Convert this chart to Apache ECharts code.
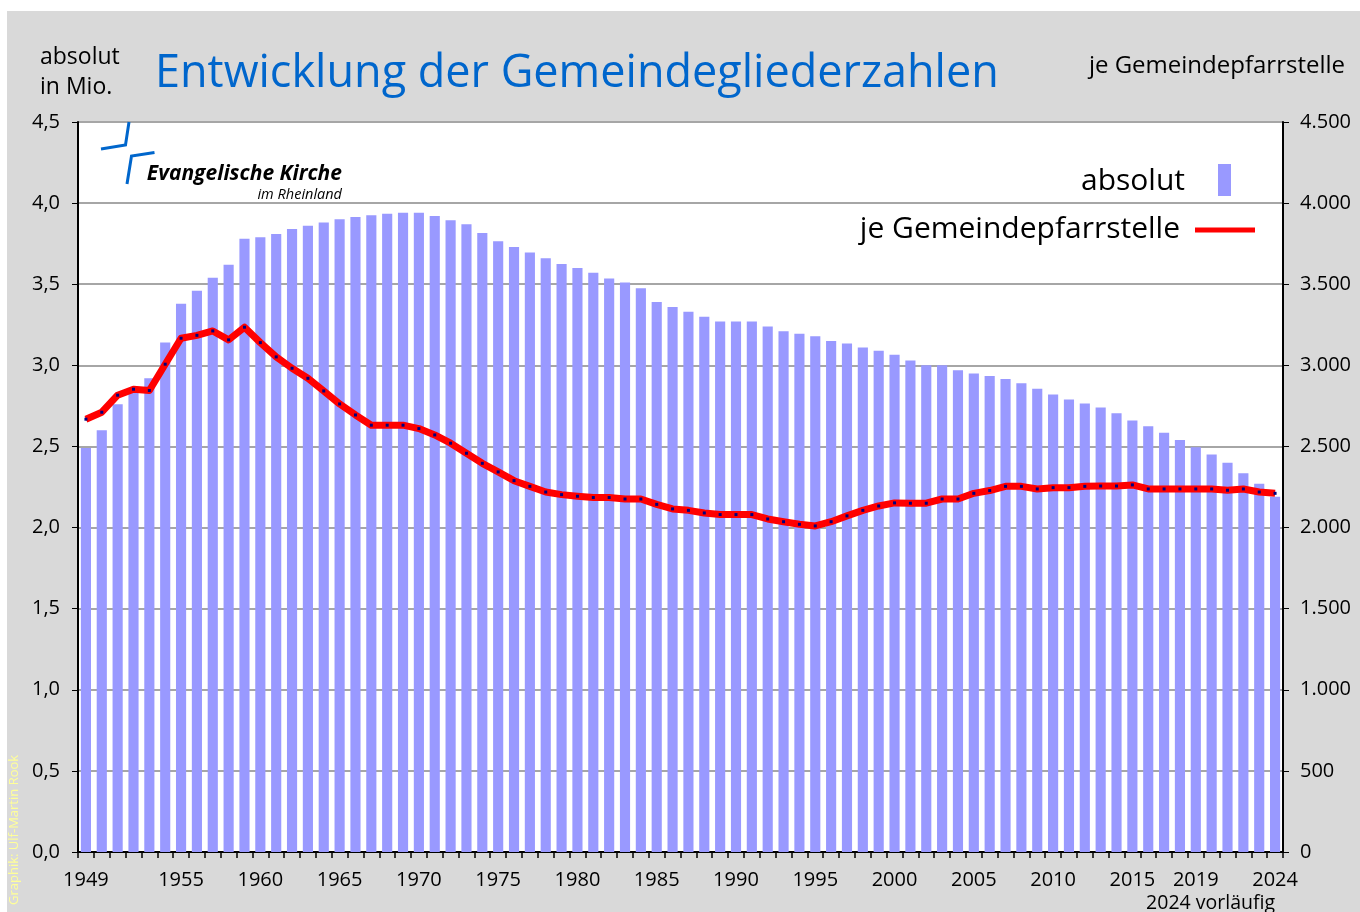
<!DOCTYPE html>
<html>
<head>
<meta charset="utf-8">
<script src="https://cdn.jsdelivr.net/npm/echarts@6/dist/echarts.min.js"></script>
<style>
  html, body { margin: 0; padding: 0; background: #fff; }
  #chart { width: 1360px; height: 912px; }
</style>
</head>
<body>
<div id="chart"></div>
<script>
// Jahre 1949 - 2024
var years = [];
for (var y = 1949; y <= 2024; y++) years.push(String(y));

// Gemeindeglieder absolut, in Mio.
var absolutMio = [
  2.49, 2.60, 2.76, 2.83, 2.92, 3.14, 3.38, 3.46, 3.54, 3.62,        // 1949-1958
  3.78, 3.79, 3.81, 3.84, 3.86, 3.88, 3.90, 3.915, 3.925, 3.935,     // 1959-1968
  3.94, 3.94, 3.92, 3.895, 3.87, 3.815, 3.765, 3.73, 3.695, 3.66,    // 1969-1978
  3.625, 3.60, 3.57, 3.535, 3.51, 3.475, 3.39, 3.36, 3.33, 3.30,     // 1979-1988
  3.27, 3.27, 3.27, 3.24, 3.21, 3.195, 3.18, 3.15, 3.135, 3.11,      // 1989-1998
  3.09, 3.065, 3.03, 3.00, 3.00, 2.97, 2.95, 2.935, 2.915, 2.89,     // 1999-2008
  2.855, 2.82, 2.79, 2.765, 2.74, 2.705, 2.66, 2.625, 2.585, 2.54,   // 2009-2018
  2.495, 2.45, 2.40, 2.335, 2.27, 2.19                               // 2019-2024
];

// Gemeindeglieder je Gemeindepfarrstelle
var jePfarrstelle = [
  2668, 2711, 2816, 2853, 2845, 3007, 3167, 3185, 3212, 3157,   // 1949-1958
  3235, 3140, 3052, 2982, 2920, 2842, 2762, 2694, 2631, 2631,   // 1959-1968
  2631, 2610, 2571, 2520, 2458, 2396, 2343, 2289, 2254, 2219,   // 1969-1978
  2203, 2193, 2185, 2185, 2176, 2176, 2143, 2115, 2106, 2090,   // 1979-1988
  2080, 2080, 2080, 2053, 2036, 2020, 2010, 2036, 2072, 2106,   // 1989-1998
  2133, 2152, 2150, 2150, 2176, 2176, 2211, 2228, 2254, 2254,   // 1999-2008
  2238, 2246, 2246, 2254, 2256, 2256, 2263, 2238, 2238, 2238,   // 2009-2018
  2238, 2238, 2230, 2238, 2219, 2211                            // 2019-2024
];

// beschriftete Jahre auf der x-Achse
var labelYears = ['1949', '1955', '1960', '1965', '1970', '1975', '1980', '1985', '1990',
  '1995', '2000', '2005', '2010', '2015', '2019', '2024'];

var FONT = '"Open Sans", "Noto Sans", sans-serif';
var BLUE = '#0066cc';

var myChart = echarts.init(document.getElementById('chart'));
var option = {
  backgroundColor: '#ffffff',
  animation: false,
  textStyle: { fontFamily: FONT },
  grid: {
    left: 78, right: 77, top: 122, bottom: 60,
    show: true, backgroundColor: '#ffffff', borderWidth: 0
  },
  xAxis: {
    type: 'category',
    data: years,
    axisLine: { lineStyle: { color: '#000', width: 2 } },
    axisTick: { show: true, interval: 0, length: 6, lineStyle: { color: '#000', width: 1.5 } },
    axisLabel: {
      interval: function (idx, val) { return labelYears.indexOf(val) >= 0; },
      color: '#000', fontSize: 20, margin: 18, fontFamily: FONT
    }
  },
  yAxis: [
    {
      type: 'value', min: 0, max: 4.5, interval: 0.5,
      axisLine: { show: true, lineStyle: { color: '#000', width: 2 } },
      axisTick: { show: true, length: 6, lineStyle: { color: '#000' } },
      splitLine: { lineStyle: { color: '#a6a6a6', width: 2 } },
      axisLabel: {
        color: '#000', fontSize: 20, margin: 18, fontFamily: FONT,
        formatter: function (v) { return v.toFixed(1).replace('.', ','); }
      }
    },
    {
      type: 'value', min: 0, max: 4500, interval: 500,
      axisLine: { show: true, lineStyle: { color: '#000', width: 2 } },
      axisTick: { show: true, length: 6, lineStyle: { color: '#000' } },
      splitLine: { show: false },
      axisLabel: {
        color: '#000', fontSize: 20, margin: 17, fontFamily: FONT,
        formatter: function (v) { return String(v).replace(/\B(?=(\d{3})+(?!\d))/g, '.'); }
      }
    }
  ],
  series: [
    {
      name: 'absolut',
      type: 'bar',
      yAxisIndex: 0,
      barWidth: '64%',
      itemStyle: { color: '#9999ff' },
      data: absolutMio
    },
    {
      name: 'je Gemeindepfarrstelle',
      type: 'line',
      yAxisIndex: 1,
      z: 5,
      symbol: 'rect',
      symbolSize: 3,
      showSymbol: true,
      itemStyle: { color: '#000080' },
      lineStyle: { color: '#ff0000', width: 7, join: 'round' },
      data: jePfarrstelle
    }
  ],
  graphic: [
    // grauer Hintergrund
    { type: 'rect', z: -10, shape: { x: 7, y: 11, width: 1353, height: 901 }, style: { fill: '#d9d9d9' } },
    // Ueberschriften
    { type: 'text', x: 155, y: 74, style: { text: 'Entwicklung der Gemeindegliederzahlen', fill: BLUE,
        font: '45px ' + FONT, textVerticalAlign: 'middle' } },
    { type: 'text', x: 40, y: 57, style: { text: 'absolut', fill: '#000', font: '23px ' + FONT, textVerticalAlign: 'middle' } },
    { type: 'text', x: 40, y: 87, style: { text: 'in Mio.', fill: '#000', font: '23px ' + FONT, textVerticalAlign: 'middle' } },
    { type: 'text', x: 1345, y: 66, style: { text: 'je Gemeindepfarrstelle', fill: '#000', font: '24px ' + FONT,
        textAlign: 'right', textVerticalAlign: 'middle' } },
    // Logo
    { type: 'polyline', z: 10, shape: { points: [[129, 122], [125.5, 145], [101, 149]] },
      style: { stroke: BLUE, lineWidth: 3, fill: null } },
    { type: 'polyline', z: 10, shape: { points: [[154.5, 152.5], [131.5, 156], [127, 184]] },
      style: { stroke: BLUE, lineWidth: 3, fill: null } },
    { type: 'text', z: 10, x: 342, y: 174, style: { text: 'Evangelische Kirche', fill: '#000',
        font: 'italic bold 21px ' + FONT, textAlign: 'right', textVerticalAlign: 'middle' } },
    { type: 'text', z: 10, x: 342, y: 195, style: { text: 'im Rheinland', fill: '#000',
        font: 'italic 14.5px ' + FONT, textAlign: 'right', textVerticalAlign: 'middle' } },
    // Legende
    { type: 'text', z: 10, x: 1185, y: 181, style: { text: 'absolut', fill: '#000', font: '30px ' + FONT,
        textAlign: 'right', textVerticalAlign: 'middle' } },
    { type: 'rect', z: 10, shape: { x: 1218, y: 164, width: 13, height: 32 }, style: { fill: '#9999ff' } },
    { type: 'text', z: 10, x: 1180, y: 229, style: { text: 'je Gemeindepfarrstelle', fill: '#000', font: '30px ' + FONT,
        textAlign: 'right', textVerticalAlign: 'middle' } },
    { type: 'line', z: 10, shape: { x1: 1195, y1: 230, x2: 1255, y2: 230 }, style: { stroke: '#ff0000', lineWidth: 5 } },
    // Fussnoten
    { type: 'text', x: 1275, y: 903, style: { text: '2024 vorläufig', fill: '#000', font: '19.5px ' + FONT,
        textAlign: 'right', textVerticalAlign: 'middle' } },
    { type: 'text', x: 14, y: 905, rotation: Math.PI / 2, style: { text: 'Graphik: Ulf-Martin Rook', fill: '#ffff99',
        font: '13px ' + FONT, textAlign: 'left', textVerticalAlign: 'middle' } }
  ]
};
myChart.setOption(option);
</script>
</body>
</html>
